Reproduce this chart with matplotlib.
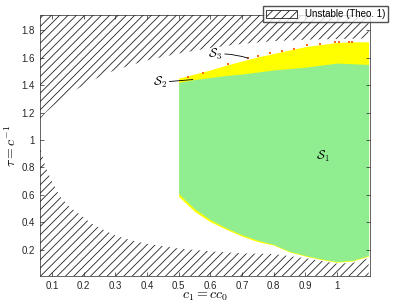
import numpy as np
import matplotlib
matplotlib.use('Agg')
import matplotlib.pyplot as plt
from matplotlib.patches import Patch

plt.rcParams['font.family'] = ['Liberation Sans', 'DejaVu Sans']
plt.rcParams['mathtext.fontset'] = 'cm'
plt.rcParams['hatch.linewidth'] = 0.6

# 不稳定区域边界 (Theo. 1)
c_hatch_up = [0.062, 0.08, 0.1, 0.125, 0.15, 0.2, 0.25, 0.3, 0.4, 0.5, 0.6, 0.7, 0.8, 0.9, 1.0, 1.1]
tau_hatch_up = [1.15, 1.20, 1.24, 1.29, 1.33, 1.40, 1.46, 1.51, 1.58, 1.63, 1.67, 1.70, 1.72, 1.73, 1.735, 1.74]
c_hatch_lo = [0.062, 0.08, 0.1, 0.125, 0.157, 0.19, 0.22, 0.25, 0.3, 0.35, 0.4, 0.5, 0.6, 0.7, 0.8, 0.9, 1.0, 1.05, 1.1]
tau_hatch_lo = [0.95, 0.80, 0.70, 0.59, 0.51, 0.455, 0.40, 0.36, 0.305, 0.27, 0.245, 0.21, 0.19, 0.175, 0.17, 0.14, 0.10, 0.105, 0.14]

# S1 / S2 区域
c_reg = [0.5, 0.55, 0.6, 0.65, 0.7, 0.75, 0.8, 0.85, 0.9, 0.95, 1.0, 1.05, 1.1]
s1_bottom = [0.61, 0.50, 0.42, 0.36, 0.31, 0.27, 0.24, 0.19, 0.16, 0.135, 0.115, 0.125, 0.16]
s1_top = [1.42, 1.44, 1.455, 1.47, 1.48, 1.495, 1.51, 1.52, 1.53, 1.545, 1.56, 1.555, 1.55]
s2_bottom = [0.59, 0.48, 0.405, 0.35, 0.30, 0.26, 0.235, 0.185, 0.155, 0.13, 0.11, 0.12, 0.155]
s2_top = [1.45, 1.48, 1.51, 1.545, 1.575, 1.605, 1.63, 1.655, 1.68, 1.695, 1.71, 1.715, 1.715]

# S3 点
c_s3 = [0.53, 0.578, 0.657, 0.72, 0.752, 0.79, 0.828, 0.863, 0.907, 0.948, 0.995, 1.005, 1.037, 1.047]
tau_s3 = [1.46, 1.49, 1.555, 1.595, 1.615, 1.63, 1.645, 1.665, 1.69, 1.70, 1.715, 1.715, 1.715, 1.715]

xticks = [0.1, 0.2, 0.3, 0.4, 0.5, 0.6, 0.7, 0.8, 0.9, 1.0]
xticklabels = ['0.1', '0.2', '0.3', '0.4', '0.5', '0.6', '0.7', '0.8', '0.9', '1']
yticks = [0.2, 0.4, 0.6, 0.8, 1.0, 1.2, 1.4, 1.6, 1.8]
yticklabels = ['0.2', '0.4', '0.6', '0.8', '1', '1.2', '1.4', '1.6', '1.8']

fig = plt.figure(figsize=(3.99, 3.06), dpi=100)
ax = fig.add_axes([0.100, 0.098, 0.827, 0.853])
ymin, ymax = 0.01, 1.91

ax.fill_between(c_reg, s2_bottom, s2_top, color='#ffff00', linewidth=0)
ax.fill_between(c_reg, s1_bottom, s1_top, color='#90ee90', linewidth=0)
ax.plot(c_s3, tau_s3, 's', color='#ff6a1a', markersize=1.8, markeredgewidth=0)

ax.fill_between(c_hatch_up, tau_hatch_up, ymax, facecolor='none', edgecolor='#222222',
                hatch='////', linewidth=0)
ax.fill_between(c_hatch_lo, ymin, tau_hatch_lo, facecolor='none', edgecolor='#222222',
                hatch='////', linewidth=0)

ax.text(0.957, 0.877, r'$\mathcal{S}_1$', fontsize=9, ha='center', va='center')
ax.annotate(r'$\mathcal{S}_2$', xy=(0.545, 1.44), xytext=(0.44, 1.42), fontsize=9,
            ha='center', va='center',
            arrowprops=dict(arrowstyle='-', lw=0.6, color='k', shrinkA=0, shrinkB=0))
ax.annotate(r'$\mathcal{S}_3$', xy=(0.72, 1.595), xytext=(0.615, 1.625), fontsize=9,
            ha='center', va='center',
            arrowprops=dict(arrowstyle='-', lw=0.6, color='k', shrinkA=0, shrinkB=0,
                            connectionstyle='arc3,rad=-0.1'))

ax.set_xlim(0.062, 1.104)
ax.set_ylim(ymin, ymax)
ax.set_xticks(xticks)
ax.set_xticklabels(xticklabels)
ax.set_yticks(yticks)
ax.set_yticklabels(yticklabels)
ax.tick_params(direction='in', length=3, width=0.5, labelsize=7, colors='#262626',
               top=True, right=True)
for s in ax.spines.values():
    s.set_linewidth(0.5)
    s.set_color('#262626')

ax.set_xlabel(r'$c_1 = c c_0$', fontsize=10, labelpad=-1)
ax.set_ylabel(r'$\tau = c^{-1}$', fontsize=10, labelpad=2)

leg_handle = Patch(facecolor='white', edgecolor='#222222', hatch='////', linewidth=0.6)
fig.legend([leg_handle], ['Unstable (Theo. 1)'], loc='upper right',
           bbox_to_anchor=(0.985, 0.995), fontsize=7, frameon=True, fancybox=False,
           edgecolor='#262626', borderpad=0.3, handlelength=3.2, handleheight=1.0,
           handletextpad=0.8)

fig.savefig('out.png', dpi=100)
